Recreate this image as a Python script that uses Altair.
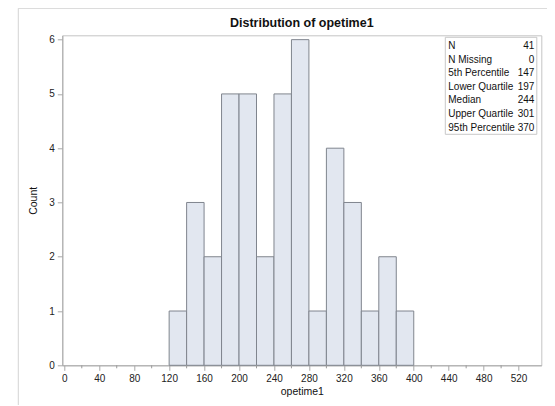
import altair as alt
import pandas as pd

# histogram data (bin width 20)
bin_starts = [120, 140, 160, 180, 200, 220, 240, 260, 280, 300, 320, 340, 360, 380]
counts = [1, 3, 2, 5, 5, 2, 5, 6, 1, 4, 3, 1, 2, 1]
bin_width = 20

# inset statistics table
stat_labels = ["N", "N Missing", "5th Percentile", "Lower Quartile", "Median", "Upper Quartile", "95th Percentile"]
stat_values = ["41", "0", "147", "197", "244", "301", "370"]

title_text = ["Distribution of opetime1"]

x_major = list(range(0, 521, 40))
x_minor = list(range(20, 521, 40))
y_ticks = [0, 1, 2, 3, 4, 5, 6]

FONT = "Liberation Sans"
W, H = 479, 330

hist = pd.DataFrame({
    "start": bin_starts,
    "end": [s + bin_width for s in bin_starts],
    "count": counts,
})
stats = pd.DataFrame({"label": stat_labels, "value": stat_values, "row": list(range(len(stat_labels)))})
minor = pd.DataFrame({"v": x_minor})

xscale = alt.Scale(domain=[-2.3, 546], nice=False, zero=False)
yscale = alt.Scale(domain=[0, 6.08], nice=False)

x_axis = alt.Axis(values=x_major, title="opetime1", grid=False, labelOverlap=False,
                  labelFlush=False, tickSize=5, labelPadding=3, titleY=26,
                  titleBaseline="middle")

bars = alt.Chart(hist).mark_rect(
    fill="#e2e7f0", stroke="#80858e", strokeWidth=1
).encode(
    x=alt.X("start:Q", scale=xscale, axis=x_axis),
    x2="end:Q",
    y=alt.Y("count:Q", scale=yscale,
            axis=alt.Axis(values=y_ticks, title="Count", grid=False, tickSize=5, labelOverlap=False,
                          labelPadding=3, titleX=-29, titleY=H / 2, titleBaseline="middle")),
    y2=alt.datum(0),
)

minor_ticks = alt.Chart(minor).mark_rule(color="#9a9a9a", strokeWidth=1).encode(
    x=alt.X("v:Q", scale=xscale, axis=x_axis),
    y=alt.value(H),
    y2=alt.value(H + 3),
)

box = alt.Chart(pd.DataFrame({"a": [0]})).mark_rect(
    fill="white", stroke="#c8c8c8", strokeWidth=1
).encode(
    x=alt.value(383), x2=alt.value(474.5), y=alt.value(2), y2=alt.value(99)
)

base_txt = alt.Chart(stats).transform_calculate(py="10.7 + datum.row * 13.6")
left_txt = base_txt.mark_text(align="left", baseline="middle", font=FONT, fontSize=10, color="#111").encode(
    x=alt.value(386), y=alt.Y("py:Q", scale=None), text="label:N")
right_txt = base_txt.mark_text(align="right", baseline="middle", font=FONT, fontSize=10, color="#111").encode(
    x=alt.value(472), y=alt.Y("py:Q", scale=None), text="value:N")

title = alt.Chart(pd.DataFrame({"t": title_text})).mark_text(
    align="center", baseline="middle", font=FONT, fontSize=12.5, fontWeight="bold", color="#111"
).encode(x=alt.value(W / 2), y=alt.value(-12.5), text="t:N")

frame = alt.Chart(pd.DataFrame({"a": [0]})).mark_rect(
    fill=None, stroke="#d4d4d4", strokeWidth=1
).encode(
    x=alt.value(-44), x2=alt.value(487), y=alt.value(-27), y2=alt.value(372)
)

chart = alt.layer(frame, bars, minor_ticks, box, left_txt, right_txt, title).properties(
    width=W, height=H,
    autosize=alt.AutoSizeParams(type="none"),
    padding={"left": 54.3, "top": 27.3, "right": 5.7, "bottom": 40},
).configure_view(
    stroke="#c4c4c4", strokeWidth=1
).configure_axis(
    domainColor="#a8a8a8", tickColor="#a8a8a8", labelColor="#222", titleColor="#111",
    labelFont=FONT, titleFont=FONT, labelFontSize=10, titleFontSize=10.5,
    titleFontWeight="normal", labelOverlap=False,
)

chart.save("out.html", embed_options={"renderer": "svg", "actions": False})
